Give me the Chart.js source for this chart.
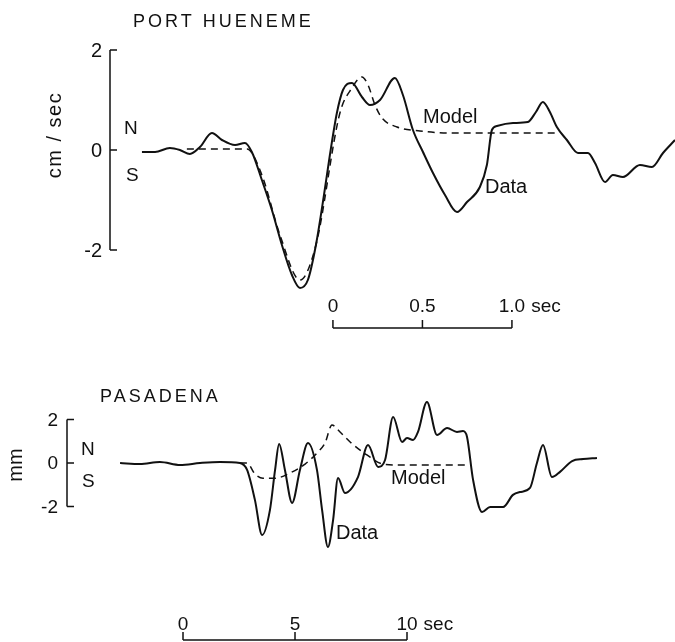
<!DOCTYPE html>
<html>
<head>
<meta charset="utf-8">
<script src="https://cdn.jsdelivr.net/npm/chart.js@4/dist/chart.umd.min.js"></script>
<style>
html,body{margin:0;padding:0;background:#fff;}
#wrap{position:relative;width:675px;height:642px;}
</style>
</head>
<body>
<div id="wrap"><canvas id="c" width="675" height="642"></canvas></div>
<script>
// ---------- PORT HUENEME (velocity, cm/sec) ----------
const topDataT = [-1.067,-0.994,-0.911,-0.855,-0.799,-0.743,-0.676,-0.620,-0.547,-0.492,-0.453,-0.397,-0.341,-0.285,-0.229,-0.184,-0.140,-0.095,-0.050,-0.017,0.022,0.056,0.106,0.162,0.207,0.263,0.346,0.391,0.447,0.503,0.559,0.626,0.693,0.749,0.821,0.860,0.888,0.916,1.006,1.089,1.134,1.173,1.212,1.251,1.307,1.369,1.425,1.464,1.520,1.564,1.620,1.715,1.782,1.844,1.911];
const topDataV = [-0.04,-0.04,0.04,0.00,-0.08,0.06,0.34,0.20,0.10,0.14,-0.04,-0.60,-1.20,-1.90,-2.50,-2.76,-2.60,-1.90,-0.90,-0.10,0.74,1.20,1.34,1.06,0.90,1.00,1.44,1.10,0.40,-0.04,-0.46,-0.90,-1.24,-1.04,-0.74,-0.30,0.40,0.48,0.54,0.56,0.76,0.96,0.76,0.46,0.20,-0.06,-0.06,-0.26,-0.64,-0.50,-0.54,-0.30,-0.34,-0.06,0.20];
const topModelT = [-0.816,-0.480,-0.397,-0.296,-0.184,-0.095,0.039,0.106,0.162,0.196,0.235,0.274,0.358,0.486,0.654,1.252];
const topModelV = [0.02,0.02,-0.50,-1.70,-2.60,-1.90,0.74,1.24,1.46,1.30,0.90,0.64,0.46,0.38,0.34,0.34];
const topYTicks = [2, 0, -2];
const topYLabels = ['2', '0', '-2'];
const topTimeTicks = [0, 0.5, 1.0];
const topTimeLabels = ['0', '0.5', '1.0'];

// ---------- PASADENA (displacement, mm) ----------
const botDataT = [-2.81,-1.92,-1.03,-0.13,0.76,1.65,2.54,2.86,3.21,3.53,3.88,4.11,4.29,4.55,4.87,5.22,5.58,5.98,6.21,6.47,6.70,6.92,7.23,7.81,8.26,8.71,9.02,9.38,9.78,10.00,10.27,10.49,10.89,11.34,11.79,12.23,12.50,12.68,12.95,13.35,13.71,14.29,14.73,15.04,15.49,15.80,16.07,16.47,16.83,17.37,17.86,18.48];
const botDataV = [0.00,-0.05,0.05,-0.09,0.00,0.05,0.00,-0.32,-1.70,-3.32,-2.17,-0.32,0.88,-0.32,-1.84,-0.32,0.92,-0.32,-2.17,-3.87,-2.63,-0.69,-1.38,-0.65,0.83,-0.18,0.14,2.12,0.97,1.15,1.06,1.43,2.81,1.29,1.61,1.43,1.47,1.20,-0.78,-2.26,-2.03,-2.03,-1.47,-1.34,-1.15,0.00,0.83,-0.65,-0.41,0.09,0.18,0.23];
const botModelT = [2.54,2.86,3.21,3.57,4.11,4.78,5.45,5.98,6.34,6.65,7.01,7.46,8.21,8.93,9.69,12.68];
const botModelV = [0.00,0.00,-0.50,-0.70,-0.70,-0.46,-0.05,0.46,0.92,1.75,1.43,0.97,0.37,-0.05,-0.09,-0.09];
const botYTicks = [2, 0, -2];
const botYLabels = ['2', '0', '-2'];
const botTimeTicks = [0, 5, 10];
const botTimeLabels = ['0', '5', '10'];

const pts = (t, v) => t.map((x, i) => ({x: x, y: v[i]}));
const INK = '#111';
const FONT = '"Liberation Sans", Arial, sans-serif';

const overlay = {
  id: 'overlay',
  afterDatasetsDraw(chart) {
    const ctx = chart.ctx;
    const s = chart.scales;
    ctx.save();
    ctx.strokeStyle = INK;
    ctx.fillStyle = INK;
    ctx.lineWidth = 1.5;

    // vertical bracket axes
    function yAxis(ys, axX, ticks, labels, fontPx, labGap) {
      const yT = ys.getPixelForValue(Math.max(...ticks));
      const yB = ys.getPixelForValue(Math.min(...ticks));
      ctx.beginPath();
      ctx.moveTo(axX, yT); ctx.lineTo(axX, yB);
      ticks.forEach(v => {
        const py = ys.getPixelForValue(v);
        ctx.moveTo(axX, py); ctx.lineTo(axX + 7, py);
      });
      ctx.stroke();
      ctx.font = fontPx + 'px ' + FONT;
      ctx.textAlign = 'right';
      ctx.textBaseline = 'middle';
      ticks.forEach((v, i) => {
        ctx.fillText(labels[i], axX - labGap, ys.getPixelForValue(v) + 1);
      });
    }

    // time scale bars
    function timeBar(xs, barY, ticks, labels, unitLabel, fontPx, labOff) {
      const xL = xs.getPixelForValue(ticks[0]);
      const xR = xs.getPixelForValue(ticks[ticks.length - 1]);
      ctx.beginPath();
      ctx.moveTo(xL, barY); ctx.lineTo(xR, barY);
      ticks.forEach(v => {
        const px = xs.getPixelForValue(v);
        ctx.moveTo(px, barY); ctx.lineTo(px, barY - 8);
      });
      ctx.stroke();
      ctx.font = fontPx + 'px ' + FONT;
      ctx.textBaseline = 'alphabetic';
      ctx.textAlign = 'center';
      ticks.forEach((v, i) => {
        ctx.fillText(labels[i], xs.getPixelForValue(v), barY - labOff);
      });
      const last = labels[labels.length - 1];
      const w = ctx.measureText(last).width;
      ctx.textAlign = 'left';
      ctx.fillText(unitLabel, xR + w / 2 + 6, barY - labOff);
    }

    yAxis(s.yTop, 110, topYTicks, topYLabels, 20, 8);
    yAxis(s.yBot, 67, botYTicks, botYLabels, 19, 9);
    timeBar(s.xTop, 328, topTimeTicks, topTimeLabels, 'sec', 19, 16);
    timeBar(s.xBot, 640, botTimeTicks, botTimeLabels, 'sec', 19, 10);

    // titles
    ctx.textAlign = 'left';
    ctx.textBaseline = 'middle';
    ctx.font = '18px ' + FONT;
    ctx.letterSpacing = '3px';
    ctx.fillText('PORT HUENEME', 133, 22);
    ctx.fillText('PASADENA', 100, 397);
    ctx.letterSpacing = '0px';

    // N / S
    ctx.font = '19px ' + FONT;
    ctx.fillText('N', 124, 129);
    ctx.fillText('S', 126, 176);
    ctx.fillText('N', 81, 450);
    ctx.fillText('S', 82, 482);

    // series labels
    ctx.font = '20px ' + FONT;
    ctx.fillText('Model', 423, 117);
    ctx.fillText('Data', 485, 187);
    ctx.fillText('Model', 391, 478);
    ctx.fillText('Data', 336, 533);

    // rotated axis titles
    ctx.font = '20px ' + FONT;
    ctx.textAlign = 'center';
    ctx.save();
    ctx.translate(55, 135); ctx.rotate(-Math.PI / 2);
    ctx.letterSpacing = '1.5px';
    ctx.fillText('cm / sec', 0, 0);
    ctx.letterSpacing = '0px';
    ctx.restore();
    ctx.save();
    ctx.translate(16, 465); ctx.rotate(-Math.PI / 2);
    ctx.fillText('mm', 0, 0);
    ctx.restore();

    ctx.restore();
  }
};

const solid = { borderColor: INK, borderWidth: 2, pointRadius: 0, fill: false, cubicInterpolationMode: 'monotone' };
const dashed = { borderColor: INK, borderWidth: 1.5, borderDash: [7, 5], pointRadius: 0, fill: false, cubicInterpolationMode: 'monotone' };

new Chart(document.getElementById('c'), {
  type: 'line',
  data: {
    datasets: [
      Object.assign({ label: 'Port Hueneme Model', data: pts(topModelT, topModelV), xAxisID: 'xTop', yAxisID: 'yTop' }, dashed),
      Object.assign({ label: 'Port Hueneme Data', data: pts(topDataT, topDataV), xAxisID: 'xTop', yAxisID: 'yTop' }, solid),
      Object.assign({ label: 'Pasadena Model', data: pts(botModelT, botModelV), xAxisID: 'xBot', yAxisID: 'yBot' }, dashed),
      Object.assign({ label: 'Pasadena Data', data: pts(botDataT, botDataV), xAxisID: 'xBot', yAxisID: 'yBot' }, solid)
    ]
  },
  options: {
    responsive: false,
    animation: false,
    devicePixelRatio: 1,
    layout: { padding: 0 },
    plugins: { legend: { display: false }, tooltip: { enabled: false }, title: { display: false } },
    scales: {
      xTop: { type: 'linear', display: false, min: -1.860, max: 1.911 },
      yTop: { type: 'linear', display: false, min: -9.84, max: 3.0 },
      xBot: { type: 'linear', display: false, min: -8.170, max: 21.964 },
      yBot: { type: 'linear', display: false, min: -8.249, max: 21.336 }
    }
  },
  plugins: [overlay]
});
</script>
</body>
</html>
